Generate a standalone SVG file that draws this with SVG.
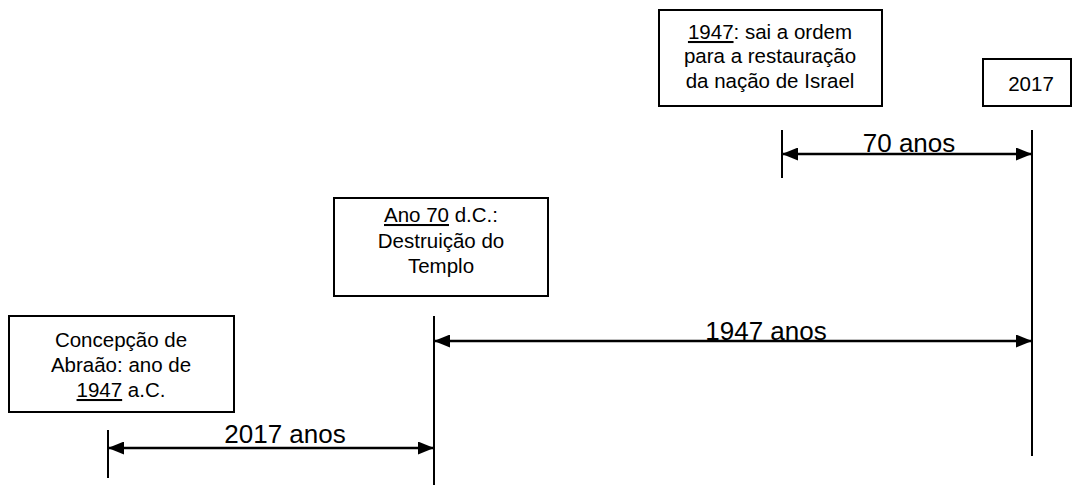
<svg xmlns="http://www.w3.org/2000/svg" width="1072" height="485" viewBox="0 0 1072 485">
<style>
.box{fill:#fff;stroke:#000;stroke-width:2}
.bt{font-family:"Liberation Sans",Arial,sans-serif;font-size:20.5px;fill:#000;text-anchor:middle}
.lbl{font-family:"Liberation Sans",Arial,sans-serif;font-size:26px;fill:#000;text-anchor:middle}
.tick{stroke:#000;stroke-width:2;fill:none}
.arr{stroke:#000;stroke-width:2.5;fill:none;marker-start:url(#ah);marker-end:url(#ah)}
.u{text-decoration:underline}
</style>
<defs>
<marker id="ah" viewBox="0 0 16 13" refX="16" refY="6.5" markerWidth="16" markerHeight="13" markerUnits="userSpaceOnUse" orient="auto-start-reverse">
<path d="M0,0 L16,6.5 L0,13 Z" fill="#000"/>
</marker>
</defs>
<rect width="1072" height="485" fill="#fff"/>
<g id="node-1947">
<rect class="box" x="659" y="10" width="223" height="96"/>
<text class="bt" x="770" y="39"><tspan class="u">1947</tspan>: sai a ordem</text>
<text class="bt" x="770" y="63">para a restauração</text>
<text class="bt" x="770" y="88">da nação de Israel</text>
</g>
<g id="node-2017">
<rect class="box" x="983" y="59" width="88" height="47"/>
<text class="bt" x="1031" y="91">2017</text>
</g>
<g id="node-ano70">
<rect class="box" x="334" y="198" width="214" height="98"/>
<text class="bt" x="441" y="222"><tspan class="u">Ano 70</tspan> d.C.:</text>
<text class="bt" x="441" y="248">Destruição do</text>
<text class="bt" x="441" y="273">Templo</text>
</g>
<g id="node-abraao">
<rect class="box" x="9" y="316" width="225" height="96"/>
<text class="bt" x="121" y="347">Concepção de</text>
<text class="bt" x="121" y="372">Abraão: ano de</text>
<text class="bt" x="121" y="397"><tspan class="u">1947</tspan> a.C.</text>
</g>
<g id="connectors">
<line class="tick" x1="782" y1="130" x2="782" y2="178"/>
<line class="tick" x1="1032" y1="130" x2="1032" y2="456"/>
<line class="tick" x1="434" y1="316" x2="434" y2="485"/>
<line class="tick" x1="108" y1="430" x2="108" y2="478"/>
<line class="arr" x1="782" y1="154" x2="1032" y2="154"/>
<line class="arr" x1="434" y1="341" x2="1032" y2="341"/>
<line class="arr" x1="108" y1="448" x2="434" y2="448"/>
</g>
<g id="labels">
<text class="lbl" x="909" y="152">70 anos</text>
<text class="lbl" x="766" y="340">1947 anos</text>
<text class="lbl" x="285" y="443">2017 anos</text>
</g>
</svg>
